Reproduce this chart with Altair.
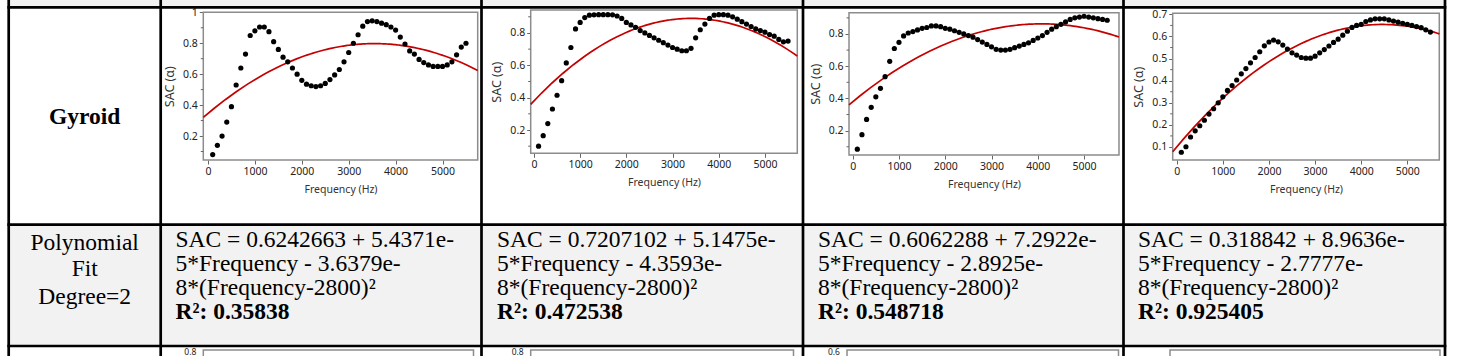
import altair as alt
import pandas as pd

# ---------------- data ----------------
freq = list(range(100, 5600, 100))

sac_1 = [0.08, 0.14, 0.20, 0.29, 0.39, 0.53, 0.64, 0.73, 0.85, 0.88,
         0.905, 0.905, 0.875, 0.81, 0.76, 0.71, 0.68, 0.64, 0.60, 0.56,
         0.535, 0.525, 0.52, 0.525, 0.54, 0.565, 0.595, 0.63, 0.68, 0.74,
         0.80, 0.855, 0.91, 0.94, 0.945, 0.94, 0.93, 0.92, 0.905, 0.885,
         0.84, 0.795, 0.75, 0.73, 0.695, 0.675, 0.66, 0.65, 0.65, 0.65,
         0.66, 0.68, 0.725, 0.775, 0.80]
sac_2 = [0.10, 0.165, 0.24, 0.33, 0.415, 0.505, 0.615, 0.71, 0.825, 0.865,
         0.895, 0.91, 0.912, 0.913, 0.913, 0.913, 0.912, 0.905, 0.89, 0.865,
         0.85, 0.835, 0.815, 0.80, 0.785, 0.77, 0.755, 0.74, 0.725, 0.71,
         0.70, 0.69, 0.69, 0.705, 0.77, 0.82, 0.855, 0.89, 0.91, 0.913,
         0.913, 0.91, 0.90, 0.885, 0.87, 0.855, 0.84, 0.825, 0.815, 0.805,
         0.79, 0.78, 0.76, 0.745, 0.75]
sac_3 = [0.085, 0.175, 0.27, 0.345, 0.41, 0.463, 0.535, 0.63, 0.71, 0.748,
         0.788, 0.806, 0.815, 0.825, 0.835, 0.84, 0.85, 0.85, 0.845, 0.835,
         0.83, 0.82, 0.81, 0.80, 0.79, 0.78, 0.765, 0.75, 0.735, 0.72,
         0.705, 0.70, 0.70, 0.705, 0.715, 0.725, 0.735, 0.745, 0.76, 0.775,
         0.79, 0.81, 0.83, 0.845, 0.86, 0.875, 0.89, 0.90, 0.905, 0.91,
         0.905, 0.90, 0.895, 0.89, 0.885]
sac_4 = [0.076, 0.101, 0.145, 0.173, 0.196, 0.221, 0.249, 0.273, 0.30, 0.327,
         0.356, 0.378, 0.403, 0.431, 0.455, 0.481, 0.505, 0.531, 0.558, 0.575,
         0.584, 0.576, 0.561, 0.543, 0.526, 0.516, 0.505, 0.502, 0.502, 0.511,
         0.526, 0.541, 0.557, 0.573, 0.588, 0.606, 0.624, 0.641, 0.65, 0.655,
         0.668, 0.675, 0.68, 0.68, 0.68, 0.675, 0.67, 0.665, 0.66, 0.655,
         0.65, 0.645, 0.64, 0.63, 0.62]

x_ticks = [0, 1000, 2000, 3000, 4000, 5000]
y_ticks_a = [0.2, 0.4, 0.6, 0.8, 1.0]
y_ticks_b = [0.2, 0.4, 0.6, 0.8]
y_ticks_c = [0.1, 0.2, 0.3, 0.4, 0.5, 0.6, 0.7]
y_minor_a = [0.1, 0.3, 0.5, 0.7, 0.9]
y_minor_b = [0.1, 0.3, 0.5, 0.7, 0.9]
y_minor_c = [0.15, 0.25, 0.35, 0.45, 0.55, 0.65]

row_label_1 = "Gyroid"
row_label_2 = ["Polynomial", "Fit", "Degree=2"]

eq_line1 = ["SAC = 0.6242663 + 5.4371e-", "SAC = 0.7207102 + 5.1475e-",
            "SAC = 0.6062288 + 7.2922e-", "SAC = 0.318842 + 8.9636e-"]
eq_line2 = ["5*Frequency - 3.6379e-", "5*Frequency - 4.3593e-",
            "5*Frequency - 2.8925e-", "5*Frequency - 2.7777e-"]
eq_line3 = ["8*(Frequency-2800)²"] * 4
r2_text = ["R²: 0.35838", "R²: 0.472538", "R²: 0.548718", "R²: 0.925405"]

next_row_labels = ["0.8", "0.8", "0.6", ""]

# ---------------- layout (pixels) ----------------
W, H = 1458, 356
vlines = [8.7, 160.7, 481.5, 803.0, 1123.5, 1445.0]
hlines = [7.3, 224.7, 346.0]
BW = 2.7
GRAY_FILL = "#f2f2f2"
FRAME = "#8c8c8c"
TICK = "#666666"
RED = "#c40000"

panels = [
    dict(sac=sac_1, xdom=[-100, 5750], xr=[203.3, 477.7], ydom=[0.045, 1.0], yr=[160.0, 12.3], yt=y_ticks_a, ym=y_minor_a),
    dict(sac=sac_2, xdom=[-70, 5700], xr=[530.7, 797.3], ydom=[0.056, 0.942], yr=[153.3, 10.0], yt=y_ticks_b, ym=y_minor_b),
    dict(sac=sac_3, xdom=[-80, 5755], xr=[849.0, 1119.0], ydom=[0.049, 0.932], yr=[155.0, 12.7], yt=y_ticks_b, ym=y_minor_b),
    dict(sac=sac_4, xdom=[-87, 5693], xr=[1172.7, 1439.3], ydom=[0.041, 0.705], yr=[160.0, 13.3], yt=y_ticks_c, ym=y_minor_c),
]
# frames of the next table row (only their tops are visible)
next_frames = [[203.3, 473.5], [530.7, 793.5], [847.0, 1118.5], [1170.0, 1440.0]]

AX_FONT = "Noto Sans"


def make_panel(p):
    df = pd.DataFrame({"Frequency": freq, "SAC": p["sac"]})
    X = alt.X("Frequency:Q",
              scale=alt.Scale(domain=p["xdom"], range=p["xr"], nice=False, zero=False),
              axis=alt.Axis(orient="bottom", offset=p["yr"][0] - H, values=x_ticks,
                            title="Frequency (Hz)", grid=False, format="d",
                            labelFont=AX_FONT, labelFontSize=10.5, labelColor="#222",
                            titleFont=AX_FONT, titleFontSize=10.5, titleFontWeight="normal",
                            titleColor="#333", titlePadding=8, labelPadding=2,
                            tickSize=4, tickColor=TICK, domain=False, labelFlush=False))
    Y = alt.Y("SAC:Q",
              scale=alt.Scale(domain=p["ydom"], range=p["yr"], nice=False, zero=False),
              axis=alt.Axis(orient="left", offset=-p["xr"][0], values=p["yt"],
                            title="SAC (α)", grid=False, format="~g",
                            labelFont=AX_FONT, labelFontSize=10.5, labelColor="#222",
                            titleFont=AX_FONT, titleFontSize=12.5, titleFontWeight="normal",
                            titleColor="#333", titlePadding=6, labelPadding=2,
                            tickSize=4, tickColor=TICK, domain=False, labelFlush=False))
    frame_df = pd.DataFrame({"Frequency": [p["xdom"][0]], "F2": [p["xdom"][1]],
                             "SAC": [p["ydom"][0]], "S2": [p["ydom"][1]]})
    frame = alt.Chart(frame_df).mark_rect(fill="white", stroke=FRAME, strokeWidth=1.5).encode(
        x=X, x2="F2:Q", y=Y, y2="S2:Q")
    minor_df = pd.DataFrame({"SAC": p["ym"]})
    minor = alt.Chart(minor_df).transform_filter(
        (alt.datum.SAC > p["ydom"][0]) & (alt.datum.SAC < p["ydom"][1])
    ).mark_rule(color=TICK, strokeWidth=1).encode(
        y=Y, x=alt.value(p["xr"][0] - 2.5), x2=alt.value(p["xr"][0]))
    pts = alt.Chart(df).mark_circle(color="black", opacity=1, size=27).encode(x=X, y=Y)
    fit = alt.Chart(df).transform_regression(
        "Frequency", "SAC", method="poly", order=2, extent=p["xdom"]
    ).mark_line(color=RED, strokeWidth=1.7).encode(x=X, y=Y)
    return alt.layer(frame, minor, fit, pts)


dummy = pd.DataFrame({"k": [0]})


def txt(s, x, y, size=23, weight="normal", align="left", font="Liberation Serif", color="black"):
    return alt.Chart(dummy).mark_text(text=s, align=align, baseline="alphabetic",
                                      font=font, fontSize=size, fontWeight=weight,
                                      color=color).encode(x=alt.value(x), y=alt.value(y))


def rect(x1, x2, y1, y2, color, stroke=None):
    kw = dict(color=color)
    if stroke:
        kw = dict(fill=color, stroke=stroke, strokeWidth=1.5)
    return alt.Chart(dummy).mark_rect(**kw).encode(
        x=alt.value(x1), x2=alt.value(x2), y=alt.value(y1), y2=alt.value(y2))


def vrule(x, y1, y2):
    return alt.Chart(dummy).mark_rule(color="black", strokeWidth=BW).encode(
        x=alt.value(x), y=alt.value(y1), y2=alt.value(y2))


def hrule(y, x1, x2):
    return alt.Chart(dummy).mark_rule(color="black", strokeWidth=BW).encode(
        y=alt.value(y), x=alt.value(x1), x2=alt.value(x2))


layers = []
# backgrounds
layers.append(rect(vlines[0], vlines[-1], 0, hlines[0], GRAY_FILL))
layers.append(rect(vlines[0], vlines[-1], hlines[1], hlines[2], GRAY_FILL))

# charts
for p in panels:
    layers.append(make_panel(p))

# next row frames (cut off at the bottom edge)
for (a, b), lab in zip(next_frames, next_row_labels):
    layers.append(rect(a, b, 350.0, 380.0, "white", stroke=FRAME))
    if lab:
        layers.append(txt(lab, a - 7, 355.0, size=8.5, align="right", font=AX_FONT, color="#222"))

# table borders
for x in vlines:
    layers.append(vrule(x, 0, H))
for y in hlines:
    layers.append(hrule(y, vlines[0] - BW / 2, vlines[-1] + BW / 2))

# row labels
cx0 = (vlines[0] + vlines[1]) / 2
layers.append(txt(row_label_1, cx0, 124, size=23.5, weight="bold", align="center"))
for s, yb in zip(row_label_2, [250, 276, 304]):
    layers.append(txt(s, cx0, yb, size=23.5, align="center"))

# equations
eq_left = [175.5, 497.0, 818.0, 1138.0]
for i in range(4):
    xl = eq_left[i]
    layers.append(txt(eq_line1[i], xl, 246.5, size=23.5))
    layers.append(txt(eq_line2[i], xl, 271.0, size=23.5))
    layers.append(txt(eq_line3[i], xl, 295.0, size=23.5))
    layers.append(txt(r2_text[i], xl, 318.5, size=23.5, weight="bold"))

chart = alt.layer(*layers).resolve_scale(x="independent", y="independent").properties(
    width=W, height=H, padding=0, autosize=alt.AutoSizeParams(type="none"),
    background="white"
).configure_view(stroke=None)

chart.save("out.html", embed_options={"renderer": "svg", "actions": False})
